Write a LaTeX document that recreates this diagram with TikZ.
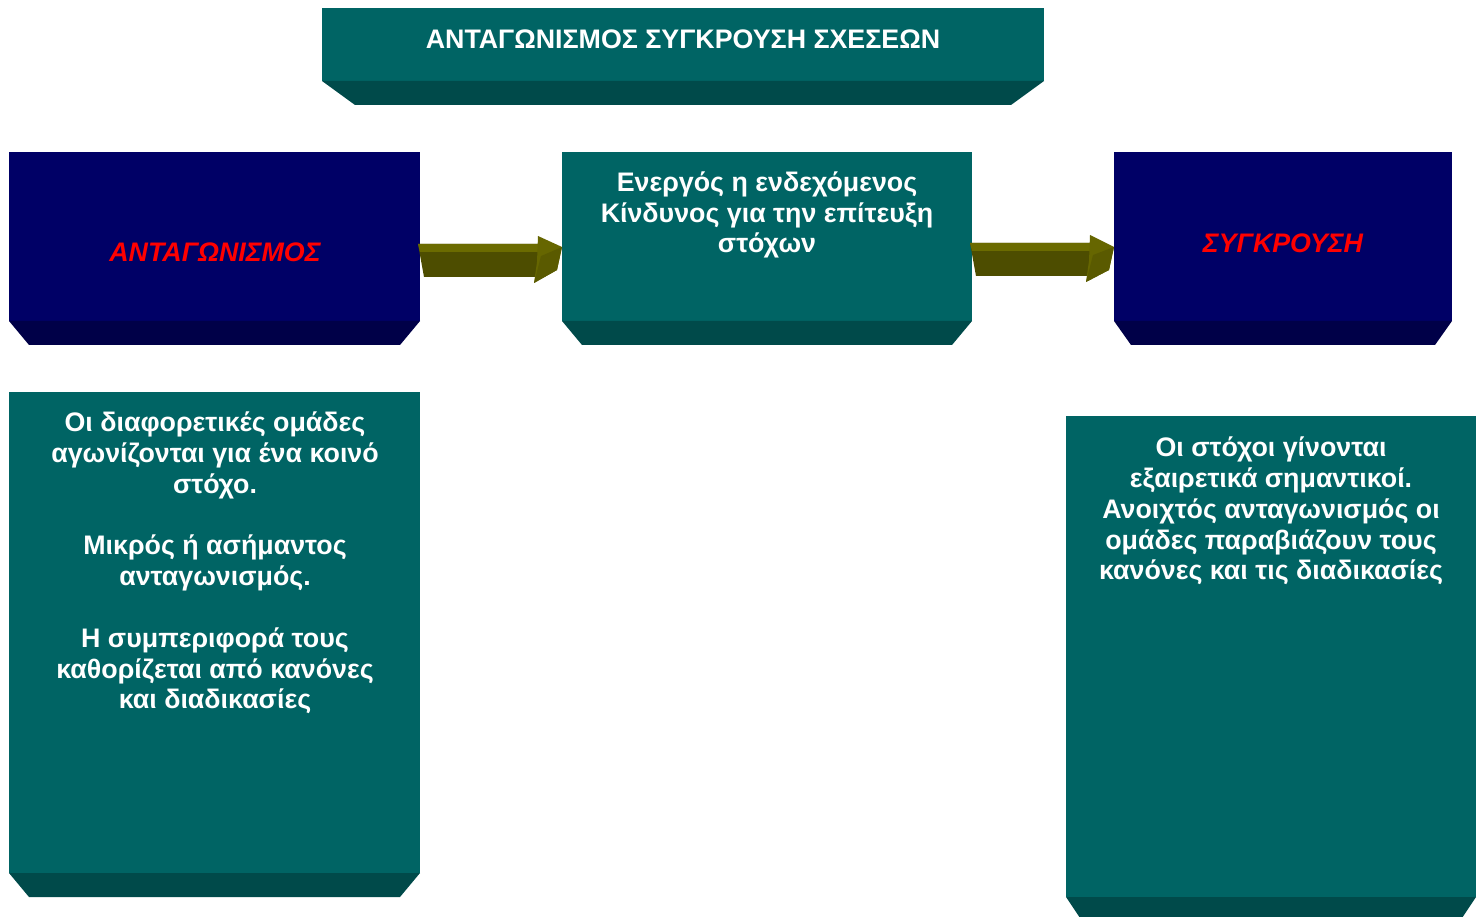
\documentclass[tikz,border=0pt]{standalone}
\usepackage{fontspec}
\setmainfont{Liberation Sans}
\usetikzlibrary{calc}

\definecolor{boxteal}{HTML}{006464}
\definecolor{boxteald}{HTML}{004A4A}
\definecolor{boxblue}{HTML}{000066}
\definecolor{boxblued}{HTML}{000048}
\definecolor{arrowdark}{HTML}{4D4D00}
\definecolor{arrowlight}{HTML}{6B6B00}
\definecolor{arrowtip}{HTML}{666600}
\definecolor{arrowfacet}{HTML}{5A5A00}
\definecolor{labelred}{HTML}{FF0000}

\tikzset{
  face/.style={rectangle, inner sep=0pt, outer sep=0pt, anchor=north west},
  tealface/.style={face, fill=boxteal},
  blueface/.style={face, fill=boxblue},
  whitetext/.style={inner sep=0pt, text=white, align=center,
    font=\fontsize{26.8}{30.8}\selectfont\bfseries},
  redtext/.style={inner sep=0pt, text=labelred,
    font=\fontsize{26.8}{30.8}\selectfont\bfseries\itshape},
}

% bottom bevel under a front face: #1 node, #2 inset, #3 depth, #4 colour
\newcommand\bevel[4]{%
  \fill[#4] (#1.south west) -- (#1.south east)
    -- ($(#1.south east)+(-#2,#3)$) -- ($(#1.south west)+(#2,#3)$) -- cycle;
}

% olive block arrow from shaft corner #1 to tip #2
\newcommand\blockarrow[2]{%
  \coordinate (hb) at ($(#2)+(-24,0)$);
  \coordinate (hs) at (hb |- #1);
  \fill[arrowdark] (#1) -- (hs) -- ($(hs)+(0,33)$) -- ($(#1)+(6,33)$) -- cycle;
  \fill[arrowlight] (#1) -- (hs) -- ($(hs)+(0,8)$) -- ($(#1)+(2,8)$) -- cycle;
  \fill[arrowtip] ($(hs)+(0,-8)$) -- (#2) -- ($(#2)+(-5,23)$)
    -- ($(hs)+(-4,39)$) -- ($(hs)+(-1,18)$) -- cycle;
  \fill[arrowfacet] ($(hs)+(3,12)$) -- (#2) -- ($(#2)+(-5,23)$)
    -- ($(hs)+(-4,39)$) -- cycle;
}

\begin{document}
\begin{tikzpicture}[x=1pt, y=-1pt]
  \clip (0,0) rectangle (1481,917);
  \fill[white] (0,0) rectangle (1481,917);

  % title bar
  \node[tealface, minimum width=722pt, minimum height=73pt] (title) at (322,8) {};
  \bevel{title}{33}{24}{boxteald}
  \node[whitetext] (titletext) at (683,39) {ΑΝΤΑΓΩΝΙΣΜΟΣ ΣΥΓΚΡΟΥΣΗ ΣΧΕΣΕΩΝ};

  % upper row
  \node[blueface, minimum width=411pt, minimum height=169pt] (ant) at (9,152) {};
  \bevel{ant}{20}{24}{boxblued}
  \node[redtext] (anttext) at (215,252) {ΑΝΤΑΓΩΝΙΣΜΟΣ};

  \node[tealface, minimum width=410pt, minimum height=169pt] (risk) at (562,152) {};
  \bevel{risk}{20}{24}{boxteald}
  \node[whitetext] (risktext) at (767,215)
    {Ενεργός η ενδεχόμενος\\Κίνδυνος για την επίτευξη\\στόχων};

  \node[blueface, minimum width=338pt, minimum height=169pt] (conf) at (1114,152) {};
  \bevel{conf}{17}{24}{boxblued}
  \node[redtext] (conftext) at (1283,243) {ΣΥΓΚΡΟΥΣΗ};

  % arrows between the upper boxes
  \coordinate (a1s) at ($(ant.north east)+(-2,92)$);
  \coordinate (a1e) at ($(risk.north west)+(0,95)$);
  \blockarrow{a1s}{a1e}
  \coordinate (a2s) at ($(risk.north east)+(-2,91)$);
  \coordinate (a2e) at ($(conf.north west)+(0,95)$);
  \blockarrow{a2s}{a2e}

  % lower descriptions
  \node[tealface, minimum width=411pt, minimum height=481pt] (antdesc) at (9,392) {};
  \bevel{antdesc}{20}{24}{boxteald}
  \node[whitetext] (antdesctext) at (215,563)
    {Οι διαφορετικές ομάδες\\αγωνίζονται για ένα κοινό\\στόχο.\\[30.8pt]%
     Μικρός ή ασήμαντος\\ανταγωνισμός.\\[30.8pt]%
     Η συμπεριφορά τους\\καθορίζεται από κανόνες\\και διαδικασίες};

  \node[tealface, minimum width=410pt, minimum height=481pt] (confdesc) at (1066,416) {};
  \bevel{confdesc}{16}{24}{boxteald}
  \node[whitetext] (confdesctext) at (1271,511)
    {Οι στόχοι γίνονται\\εξαιρετικά σημαντικοί.\\Ανοιχτός ανταγωνισμός οι\\ομάδες παραβιάζουν τους\\κανόνες και τις διαδικασίες};
\end{tikzpicture}
\end{document}
